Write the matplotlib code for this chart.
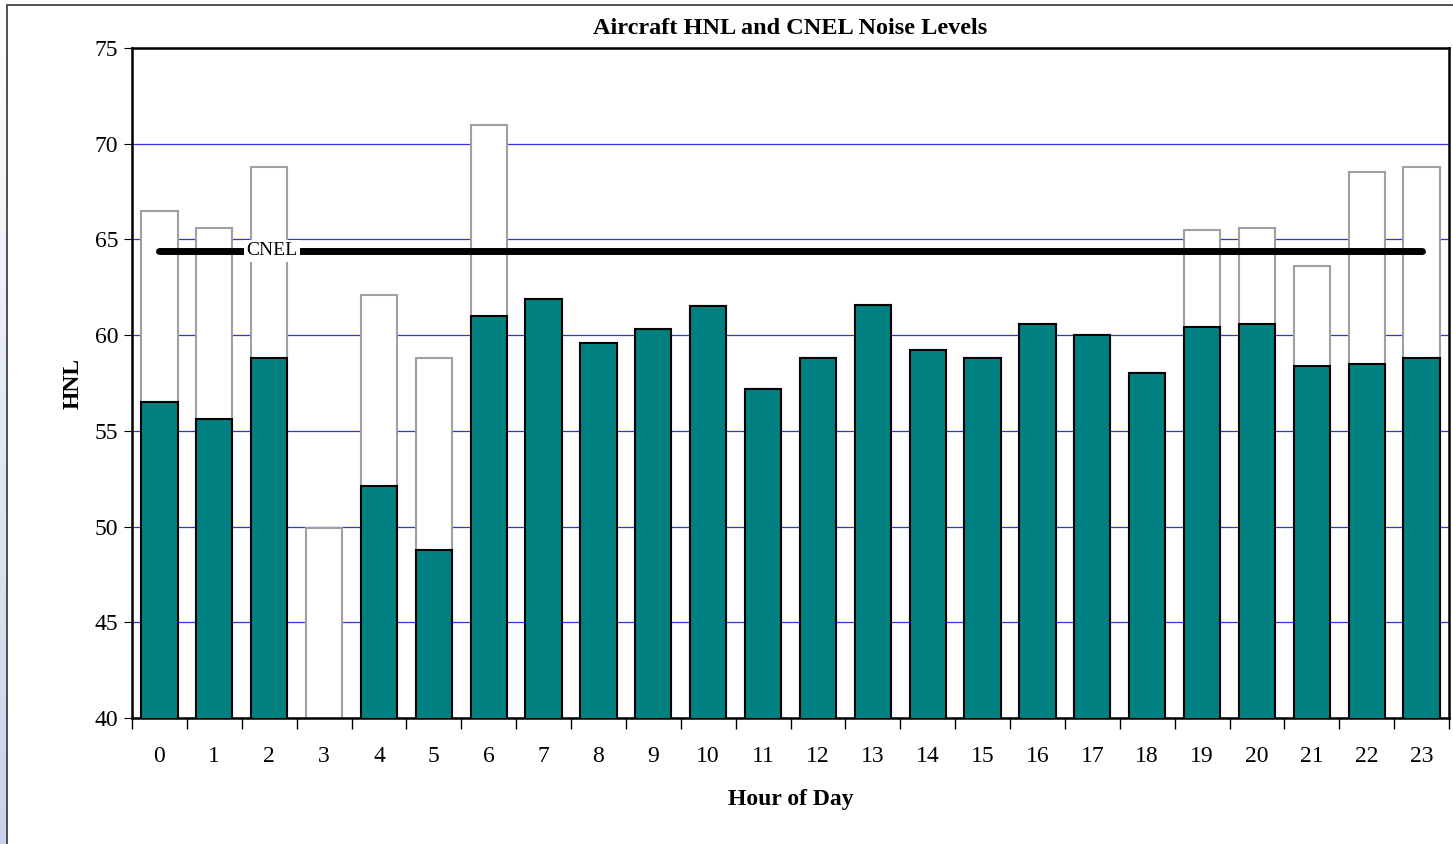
import numpy as np
import matplotlib.pyplot as plt
from matplotlib.patches import Rectangle

hours = [str(h) for h in range(24)]
hnl = [56.5, 55.6, 58.8, 39.9, 52.1, 48.8, 61.0, 61.9, 59.6, 60.3, 61.5, 57.2,
       58.8, 61.6, 59.2, 58.8, 60.6, 60.0, 58.0, 60.4, 60.6, 58.4, 58.5, 58.8]
# weighted level (evening +5, night +10)
weighted = [66.5, 65.6, 68.8, 49.9, 62.1, 58.8, 71.0, 61.9, 59.6, 60.3, 61.5, 57.2,
            58.8, 61.6, 59.2, 58.8, 60.6, 60.0, 58.0, 65.5, 65.6, 63.6, 68.5, 68.8]
cnel = 64.4

plt.rcParams['font.family'] = ['Liberation Serif', 'DejaVu Serif']

fig = plt.figure(figsize=(14.53, 8.44), dpi=100)

# pale blue strip on the left edge (white at top, bluish at bottom) and outer frame
t = np.linspace(0, 1, 100).reshape(-1, 1)
top = np.array([1.0, 1.0, 1.0])
bot = np.array([0.78, 0.83, 0.91])
strip = (top + (bot - top) * t[..., None]).reshape(100, 1, 3)
bg = fig.add_axes([0, 0, 7 / 1453, 1], zorder=-5)
bg.imshow(strip, aspect='auto', extent=[0, 1, 0, 1])
bg.axis('off')
fig.patches.append(Rectangle((7 / 1453, -0.01), 1.0, 1.004, transform=fig.transFigure,
                             fill=False, edgecolor='#333333', linewidth=1.2))

ax = fig.add_axes([132 / 1453, 1 - 718 / 844, (1449 - 132) / 1453, (718 - 48) / 844])
x = np.arange(len(hours))
w = 0.66
ax.bar(x, weighted, width=w, bottom=0, color='white', edgecolor='#a0a0a0',
       linewidth=1.5, zorder=2)
ax.bar(x, hnl, width=w, color='#008080', edgecolor='black', linewidth=1.5, zorder=3)

ax.plot([x[0], x[-1]], [cnel, cnel], color='black', linewidth=5,
        solid_capstyle='round', zorder=4)
ax.text(2.05, cnel, 'CNEL', ha='center', va='center', fontsize=14, zorder=5,
        bbox=dict(facecolor='white', edgecolor='none', pad=2))

ax.set_ylim(40, 75)
ax.set_xlim(-0.5, 23.5)
ax.set_yticks(range(40, 76, 5))
ax.set_xticks(x)
ax.set_xticklabels(hours)
ax.set_xticks(np.arange(-0.5, 24, 1), minor=True)
ax.tick_params(axis='x', which='major', length=0, pad=20, labelsize=17)
ax.tick_params(axis='x', which='minor', length=8, direction='out', width=1)
ax.tick_params(axis='y', length=6, direction='out', labelsize=17, pad=4)
ax.yaxis.grid(True, color='#3030e0', linewidth=0.9)
ax.set_axisbelow(True)
for s in ax.spines.values():
    s.set_linewidth(1.8)
    s.set_color('black')

ax.set_title('Aircraft HNL and CNEL Noise Levels', fontsize=17.5, fontweight='bold', pad=10)
ax.set_ylabel('HNL', fontsize=17, fontweight='bold', labelpad=8)
ax.set_xlabel('Hour of Day', fontsize=17, fontweight='bold', labelpad=16)

fig.savefig('out.png', dpi=100)
